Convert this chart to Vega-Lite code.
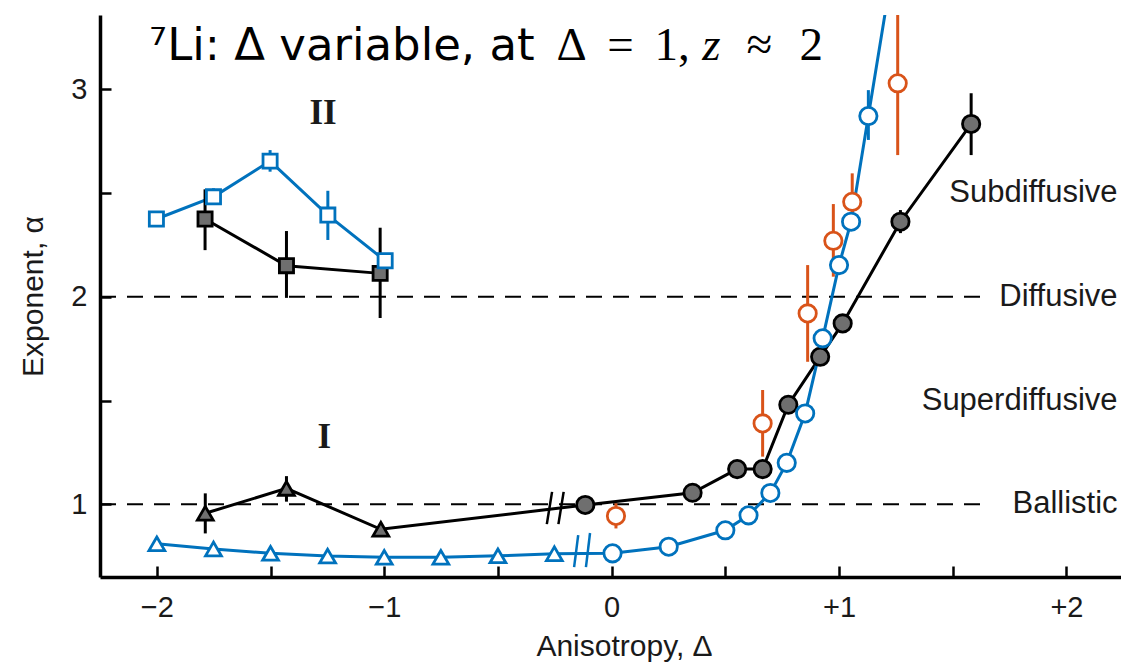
{
  "$schema": "https://vega.github.io/schema/vega-lite/v6.json",
  "width": 1021,
  "height": 562,
  "autosize": "none",
  "padding": {"left": 100, "top": 15, "right": 0, "bottom": 86},
  "background": "white",
  "config": {
    "view": {"stroke": null},
    "font": "Liberation Sans",
    "axis": {
      "grid": false,
      "domainColor": "black",
      "domainWidth": 3.5,
      "tickColor": "black",
      "tickWidth": 2.5,
      "tickSize": -11,
      "labelFontSize": 29,
      "labelColor": "#1a1a1a",
      "titleFontSize": 30,
      "titleFontWeight": "normal",
      "titleColor": "#1a1a1a",
      "labelFlush": false,
      "labelOverlap": false
    }
  },
  "datasets": {
    "pts": [
      {"x": -1.788, "y": 2.375, "lo": 2.225, "hi": 2.518, "line": "IIb", "grp": "black", "mk": "sq"},
      {"x": -1.43, "y": 2.15, "lo": 1.995, "hi": 2.317, "line": "IIb", "grp": "black", "mk": "sq"},
      {"x": -1.018, "y": 2.113, "lo": 1.898, "hi": 2.333, "line": "IIb", "grp": "black", "mk": "sq"},
      {"x": -2.002, "y": 2.375, "lo": 2.34, "hi": 2.4, "line": "IIc", "grp": "blue", "mk": "sq"},
      {"x": -1.751, "y": 2.482, "lo": 2.447, "hi": 2.523, "line": "IIc", "grp": "blue", "mk": "sq"},
      {"x": -1.502, "y": 2.654, "lo": 2.603, "hi": 2.707, "line": "IIc", "grp": "blue", "mk": "sq"},
      {"x": -1.248, "y": 2.394, "lo": 2.274, "hi": 2.511, "line": "IIc", "grp": "blue", "mk": "sq"},
      {"x": -0.996, "y": 2.174, "lo": 2.15, "hi": 2.2, "line": "IIc", "grp": "blue", "mk": "sq"},
      {"x": -1.787, "y": 0.957, "lo": 0.86, "hi": 1.053, "line": "Ib", "grp": "black", "mk": "tri"},
      {"x": -1.43, "y": 1.077, "lo": 1.013, "hi": 1.136, "line": "Ib", "grp": "black", "mk": "tri"},
      {"x": -1.015, "y": 0.88, "lo": 0.87, "hi": 0.89, "line": "Ib", "grp": "black", "mk": "tri"},
      {"x": -0.116, "y": 0.997, "lo": 0.975, "hi": 1.02, "line": "Ib", "grp": "black", "mk": "circ"},
      {"x": 0.356, "y": 1.056, "lo": 1.03, "hi": 1.08, "line": "Ib", "grp": "black", "mk": "circ"},
      {"x": 0.552, "y": 1.17, "lo": 1.145, "hi": 1.195, "line": "Ib", "grp": "black", "mk": "circ"},
      {"x": 0.664, "y": 1.17, "lo": 1.14, "hi": 1.2, "line": "Ib", "grp": "black", "mk": "circ"},
      {"x": 0.777, "y": 1.48, "lo": 1.47, "hi": 1.49, "line": "Ib", "grp": "black", "mk": "circ"},
      {"x": 0.917, "y": 1.711, "lo": 1.7, "hi": 1.72, "line": "Ib", "grp": "black", "mk": "circ"},
      {"x": 1.016, "y": 1.872, "lo": 1.86, "hi": 1.885, "line": "Ib", "grp": "black", "mk": "circ"},
      {"x": 1.27, "y": 2.362, "lo": 2.307, "hi": 2.418, "line": "Ib", "grp": "black", "mk": "circ"},
      {"x": 1.581, "y": 2.833, "lo": 2.683, "hi": 2.981, "line": "Ib", "grp": "black", "mk": "circ"},
      {"x": -2.0, "y": 0.81, "lo": 0.78, "hi": 0.84, "line": "Ic", "grp": "blue", "mk": "tri"},
      {"x": -1.751, "y": 0.785, "lo": 0.76, "hi": 0.81, "line": "Ic", "grp": "blue", "mk": "tri"},
      {"x": -1.5, "y": 0.764, "lo": 0.745, "hi": 0.79, "line": "Ic", "grp": "blue", "mk": "tri"},
      {"x": -1.249, "y": 0.751, "lo": 0.735, "hi": 0.77, "line": "Ic", "grp": "blue", "mk": "tri"},
      {"x": -1.0, "y": 0.745, "lo": 0.73, "hi": 0.765, "line": "Ic", "grp": "blue", "mk": "tri"},
      {"x": -0.751, "y": 0.745, "lo": 0.735, "hi": 0.755, "line": "Ic", "grp": "blue", "mk": "tri"},
      {"x": -0.5, "y": 0.752, "lo": 0.74, "hi": 0.765, "line": "Ic", "grp": "blue", "mk": "tri"},
      {"x": -0.252, "y": 0.762, "lo": 0.755, "hi": 0.77, "line": "Ic", "grp": "blue", "mk": "tri"},
      {"x": 0.004, "y": 0.764, "lo": 0.755, "hi": 0.775, "line": "Ic", "grp": "blue", "mk": "circ"},
      {"x": 0.251, "y": 0.796, "lo": 0.786, "hi": 0.806, "line": "Ic", "grp": "blue", "mk": "circ"},
      {"x": 0.5, "y": 0.875, "lo": 0.865, "hi": 0.885, "line": "Ic", "grp": "blue", "mk": "circ"},
      {"x": 0.602, "y": 0.947, "lo": 0.937, "hi": 0.957, "line": "Ic", "grp": "blue", "mk": "circ"},
      {"x": 0.698, "y": 1.055, "lo": 1.04, "hi": 1.07, "line": "Ic", "grp": "blue", "mk": "circ"},
      {"x": 0.77, "y": 1.2, "lo": 1.17, "hi": 1.23, "line": "Ic", "grp": "blue", "mk": "circ"},
      {"x": 0.851, "y": 1.438, "lo": 1.41, "hi": 1.47, "line": "Ic", "grp": "blue", "mk": "circ"},
      {"x": 0.928, "y": 1.8, "lo": 1.78, "hi": 1.82, "line": "Ic", "grp": "blue", "mk": "circ"},
      {"x": 1.0, "y": 2.153, "lo": 2.14, "hi": 2.17, "line": "Ic", "grp": "blue", "mk": "circ"},
      {"x": 1.053, "y": 2.362, "lo": 2.34, "hi": 2.38, "line": "Ic", "grp": "blue", "mk": "circ"},
      {"x": 1.129, "y": 2.871, "lo": 2.756, "hi": 2.996, "line": "Ic", "grp": "blue", "mk": "circ"},
      {"x": 1.23, "y": 3.55, "lo": 3.55, "hi": 3.55, "line": "Ic", "grp": "blue", "mk": "none"},
      {"x": 0.019, "y": 0.944, "lo": 0.884, "hi": 1.005, "line": "none", "grp": "orange", "mk": "circ"},
      {"x": 0.664, "y": 1.39, "lo": 1.23, "hi": 1.551, "line": "none", "grp": "orange", "mk": "circ"},
      {"x": 0.862, "y": 1.92, "lo": 1.687, "hi": 2.153, "line": "none", "grp": "orange", "mk": "circ"},
      {"x": 0.975, "y": 2.27, "lo": 2.097, "hi": 2.447, "line": "none", "grp": "orange", "mk": "circ"},
      {"x": 1.058, "y": 2.458, "lo": 2.402, "hi": 2.595, "line": "none", "grp": "orange", "mk": "circ"},
      {"x": 1.258, "y": 3.029, "lo": 2.683, "hi": 3.358, "line": "none", "grp": "orange", "mk": "circ"}
    ],
    "breaks": [
      {"x": -0.285, "y": 0.905, "x2": -0.262, "y2": 1.06, "grp": "black"},
      {"x": -0.234, "y": 0.905, "x2": -0.211, "y2": 1.06, "grp": "black"},
      {"x": -0.165, "y": 0.698, "x2": -0.147, "y2": 0.852, "grp": "blue"},
      {"x": -0.113, "y": 0.698, "x2": -0.095, "y2": 0.862, "grp": "blue"}
    ]
  },
  "layer": [
    {
      "data": {"values": [{"y": 1}, {"y": 2}]},
      "mark": {"type": "rule", "strokeDash": [16, 11], "strokeWidth": 2, "color": "black"},
      "encoding": {
        "x": {"datum": -2.25, "type": "quantitative", "scale": {"domain": [-2.25, 2.24], "nice": false, "zero": false},
          "axis": {"title": "Anisotropy, Δ", "values": [-2, -1.5, -1, -0.5, 0, 0.5, 1, 1.5, 2], "labelExpr": "datum.value == 0 ? '0' : (datum.value % 1 != 0 ? '' : (datum.value > 0 ? '+' + datum.value : '−' + abs(datum.value)))", "labelPadding": 27, "titlePadding": 9, "titleX": 524}},
        "x2": {"datum": 1.62},
        "y": {"field": "y", "type": "quantitative", "scale": {"domain": [0.65, 3.358], "nice": false, "zero": false},
          "axis": {"title": "Exponent, α", "values": [1, 1.5, 2, 2.5, 3], "labelExpr": "datum.value % 1 != 0 ? '' : '' + datum.value", "labelPadding": 24, "titlePadding": 22}}
      }
    },
    {
      "data": {"name": "breaks"},
      "mark": {"type": "rule", "strokeWidth": 2.5},
      "encoding": {
        "x": {"field": "x", "type": "quantitative", "scale": {"domain": [-2.25, 2.24], "nice": false, "zero": false},
          "axis": {"title": "Anisotropy, Δ", "values": [-2, -1.5, -1, -0.5, 0, 0.5, 1, 1.5, 2], "labelExpr": "datum.value == 0 ? '0' : (datum.value % 1 != 0 ? '' : (datum.value > 0 ? '+' + datum.value : '−' + abs(datum.value)))", "labelPadding": 27, "titlePadding": 9, "titleX": 524}},
        "x2": {"field": "x2"},
        "y": {"field": "y", "type": "quantitative", "scale": {"domain": [0.65, 3.358], "nice": false, "zero": false},
          "axis": {"title": "Exponent, α", "values": [1, 1.5, 2, 2.5, 3], "labelExpr": "datum.value % 1 != 0 ? '' : '' + datum.value", "labelPadding": 24, "titlePadding": 22}},
        "y2": {"field": "y2"},
        "color": {"field": "grp", "type": "nominal", "scale": {"domain": ["black", "blue", "orange"], "range": ["black", "#0072BD", "#D95319"]}, "legend": null}
      }
    },
    {
      "data": {"name": "pts"},
      "transform": [{"filter": "datum.line != 'none'"}],
      "mark": {"type": "line", "strokeWidth": 3, "clip": true},
      "encoding": {
        "x": {"field": "x", "type": "quantitative", "scale": {"domain": [-2.25, 2.24], "nice": false, "zero": false},
          "axis": {"title": "Anisotropy, Δ", "values": [-2, -1.5, -1, -0.5, 0, 0.5, 1, 1.5, 2], "labelExpr": "datum.value == 0 ? '0' : (datum.value % 1 != 0 ? '' : (datum.value > 0 ? '+' + datum.value : '−' + abs(datum.value)))", "labelPadding": 27, "titlePadding": 9, "titleX": 524}},
        "y": {"field": "y", "type": "quantitative", "scale": {"domain": [0.65, 3.358], "nice": false, "zero": false},
          "axis": {"title": "Exponent, α", "values": [1, 1.5, 2, 2.5, 3], "labelExpr": "datum.value % 1 != 0 ? '' : '' + datum.value", "labelPadding": 24, "titlePadding": 22}},
        "detail": {"field": "line", "type": "nominal"},
        "color": {"field": "grp", "type": "nominal", "scale": {"domain": ["black", "blue", "orange"], "range": ["black", "#0072BD", "#D95319"]}, "legend": null},
        "order": {"field": "x", "type": "quantitative"}
      }
    },
    {
      "data": {"name": "pts"},
      "transform": [{"filter": "datum.mk != 'none'"}],
      "mark": {"type": "rule", "strokeWidth": 3, "clip": true},
      "encoding": {
        "x": {"field": "x", "type": "quantitative", "scale": {"domain": [-2.25, 2.24], "nice": false, "zero": false},
          "axis": {"title": "Anisotropy, Δ", "values": [-2, -1.5, -1, -0.5, 0, 0.5, 1, 1.5, 2], "labelExpr": "datum.value == 0 ? '0' : (datum.value % 1 != 0 ? '' : (datum.value > 0 ? '+' + datum.value : '−' + abs(datum.value)))", "labelPadding": 27, "titlePadding": 9, "titleX": 524}},
        "y": {"field": "lo", "type": "quantitative", "scale": {"domain": [0.65, 3.358], "nice": false, "zero": false},
          "axis": {"title": "Exponent, α", "values": [1, 1.5, 2, 2.5, 3], "labelExpr": "datum.value % 1 != 0 ? '' : '' + datum.value", "labelPadding": 24, "titlePadding": 22}},
        "y2": {"field": "hi"},
        "color": {"field": "grp", "type": "nominal", "scale": {"domain": ["black", "blue", "orange"], "range": ["black", "#0072BD", "#D95319"]}, "legend": null}
      }
    },
    {
      "data": {"name": "pts"},
      "transform": [{"filter": "datum.mk != 'none'"}],
      "mark": {"type": "point", "filled": false, "strokeWidth": 2.8, "opacity": 1, "clip": true},
      "encoding": {
        "x": {"field": "x", "type": "quantitative", "scale": {"domain": [-2.25, 2.24], "nice": false, "zero": false},
          "axis": {"title": "Anisotropy, Δ", "values": [-2, -1.5, -1, -0.5, 0, 0.5, 1, 1.5, 2], "labelExpr": "datum.value == 0 ? '0' : (datum.value % 1 != 0 ? '' : (datum.value > 0 ? '+' + datum.value : '−' + abs(datum.value)))", "labelPadding": 27, "titlePadding": 9, "titleX": 524}},
        "y": {"field": "y", "type": "quantitative", "scale": {"domain": [0.65, 3.358], "nice": false, "zero": false},
          "axis": {"title": "Exponent, α", "values": [1, 1.5, 2, 2.5, 3], "labelExpr": "datum.value % 1 != 0 ? '' : '' + datum.value", "labelPadding": 24, "titlePadding": 22}},
        "shape": {"field": "mk", "type": "nominal", "scale": {"domain": ["sq", "tri", "circ"], "range": ["square", "triangle-up", "circle"]}, "legend": null},
        "size": {"field": "mk", "type": "nominal", "scale": {"domain": ["sq", "tri", "circ"], "range": [200, 300, 160]}, "legend": null},
        "fill": {"field": "grp", "type": "nominal", "scale": {"domain": ["black", "blue", "orange"], "range": ["#6f6f6f", "white", "white"]}, "legend": null},
        "stroke": {"field": "grp", "type": "nominal", "scale": {"domain": ["black", "blue", "orange"], "range": ["black", "#0072BD", "#D95319"]}, "legend": null}
      }
    },
    {
      "data": {"values": [
        {"t": "Subdiffusive", "y": 2.5},
        {"t": "Diffusive", "y": 2.0},
        {"t": "Superdiffusive", "y": 1.5},
        {"t": "Ballistic", "y": 1.0}
      ]},
      "mark": {"type": "text", "align": "right", "baseline": "middle", "fontSize": 31, "color": "#1a1a1a", "font": "Liberation Sans"},
      "encoding": {
        "x": {"datum": 2.225, "type": "quantitative", "scale": {"domain": [-2.25, 2.24], "nice": false, "zero": false},
          "axis": {"title": "Anisotropy, Δ", "values": [-2, -1.5, -1, -0.5, 0, 0.5, 1, 1.5, 2], "labelExpr": "datum.value == 0 ? '0' : (datum.value % 1 != 0 ? '' : (datum.value > 0 ? '+' + datum.value : '−' + abs(datum.value)))", "labelPadding": 27, "titlePadding": 9, "titleX": 524}},
        "y": {"field": "y", "type": "quantitative", "scale": {"domain": [0.65, 3.358], "nice": false, "zero": false},
          "axis": {"title": "Exponent, α", "values": [1, 1.5, 2, 2.5, 3], "labelExpr": "datum.value % 1 != 0 ? '' : '' + datum.value", "labelPadding": 24, "titlePadding": 22}},
        "text": {"field": "t"}
      }
    },
    {
      "data": {"values": [
        {"t": "II", "x": -1.269, "y": 2.884},
        {"t": "I", "x": -1.264, "y": 1.324}
      ]},
      "mark": {"type": "text", "align": "center", "baseline": "middle", "fontSize": 35, "fontWeight": "bold", "font": "Liberation Serif", "color": "#1a1a1a"},
      "encoding": {
        "x": {"field": "x", "type": "quantitative", "scale": {"domain": [-2.25, 2.24], "nice": false, "zero": false},
          "axis": {"title": "Anisotropy, Δ", "values": [-2, -1.5, -1, -0.5, 0, 0.5, 1, 1.5, 2], "labelExpr": "datum.value == 0 ? '0' : (datum.value % 1 != 0 ? '' : (datum.value > 0 ? '+' + datum.value : '−' + abs(datum.value)))", "labelPadding": 27, "titlePadding": 9, "titleX": 524}},
        "y": {"field": "y", "type": "quantitative", "scale": {"domain": [0.65, 3.358], "nice": false, "zero": false},
          "axis": {"title": "Exponent, α", "values": [1, 1.5, 2, 2.5, 3], "labelExpr": "datum.value % 1 != 0 ? '' : '' + datum.value", "labelPadding": 24, "titlePadding": 22}},
        "text": {"field": "t"}
      }
    },
    {
      "data": {"values": [{"t": "⁷Li: Δ variable, at", "x": -2.034, "y": 3.141}]},
      "mark": {"type": "text", "align": "left", "baseline": "alphabetic", "fontSize": 45, "font": "DejaVu Sans", "color": "black"},
      "encoding": {
        "x": {"field": "x", "type": "quantitative", "scale": {"domain": [-2.25, 2.24], "nice": false, "zero": false},
          "axis": {"title": "Anisotropy, Δ", "values": [-2, -1.5, -1, -0.5, 0, 0.5, 1, 1.5, 2], "labelExpr": "datum.value == 0 ? '0' : (datum.value % 1 != 0 ? '' : (datum.value > 0 ? '+' + datum.value : '−' + abs(datum.value)))", "labelPadding": 27, "titlePadding": 9, "titleX": 524}},
        "y": {"field": "y", "type": "quantitative", "scale": {"domain": [0.65, 3.358], "nice": false, "zero": false},
          "axis": {"title": "Exponent, α", "values": [1, 1.5, 2, 2.5, 3], "labelExpr": "datum.value % 1 != 0 ? '' : '' + datum.value", "labelPadding": 24, "titlePadding": 22}},
        "text": {"field": "t"}
      }
    },
    {
      "data": {"values": [
        {"t": "Δ", "x": -0.243, "y": 3.141},
        {"t": "=", "x": -0.019, "y": 3.141},
        {"t": "1,", "x": 0.188, "y": 3.141},
        {"t": "≈", "x": 0.593, "y": 3.141},
        {"t": "2", "x": 0.826, "y": 3.141}
      ]},
      "mark": {"type": "text", "align": "left", "baseline": "alphabetic", "fontSize": 47, "font": "Liberation Serif", "color": "black"},
      "encoding": {
        "x": {"field": "x", "type": "quantitative", "scale": {"domain": [-2.25, 2.24], "nice": false, "zero": false},
          "axis": {"title": "Anisotropy, Δ", "values": [-2, -1.5, -1, -0.5, 0, 0.5, 1, 1.5, 2], "labelExpr": "datum.value == 0 ? '0' : (datum.value % 1 != 0 ? '' : (datum.value > 0 ? '+' + datum.value : '−' + abs(datum.value)))", "labelPadding": 27, "titlePadding": 9, "titleX": 524}},
        "y": {"field": "y", "type": "quantitative", "scale": {"domain": [0.65, 3.358], "nice": false, "zero": false},
          "axis": {"title": "Exponent, α", "values": [1, 1.5, 2, 2.5, 3], "labelExpr": "datum.value % 1 != 0 ? '' : '' + datum.value", "labelPadding": 24, "titlePadding": 22}},
        "text": {"field": "t"}
      }
    },
    {
      "data": {"values": [{"t": "z", "x": 0.399, "y": 3.141}]},
      "mark": {"type": "text", "align": "left", "baseline": "alphabetic", "fontSize": 47, "font": "Liberation Serif", "fontStyle": "italic", "color": "black"},
      "encoding": {
        "x": {"field": "x", "type": "quantitative", "scale": {"domain": [-2.25, 2.24], "nice": false, "zero": false},
          "axis": {"title": "Anisotropy, Δ", "values": [-2, -1.5, -1, -0.5, 0, 0.5, 1, 1.5, 2], "labelExpr": "datum.value == 0 ? '0' : (datum.value % 1 != 0 ? '' : (datum.value > 0 ? '+' + datum.value : '−' + abs(datum.value)))", "labelPadding": 27, "titlePadding": 9, "titleX": 524}},
        "y": {"field": "y", "type": "quantitative", "scale": {"domain": [0.65, 3.358], "nice": false, "zero": false},
          "axis": {"title": "Exponent, α", "values": [1, 1.5, 2, 2.5, 3], "labelExpr": "datum.value % 1 != 0 ? '' : '' + datum.value", "labelPadding": 24, "titlePadding": 22}},
        "text": {"field": "t"}
      }
    }
  ]
}
